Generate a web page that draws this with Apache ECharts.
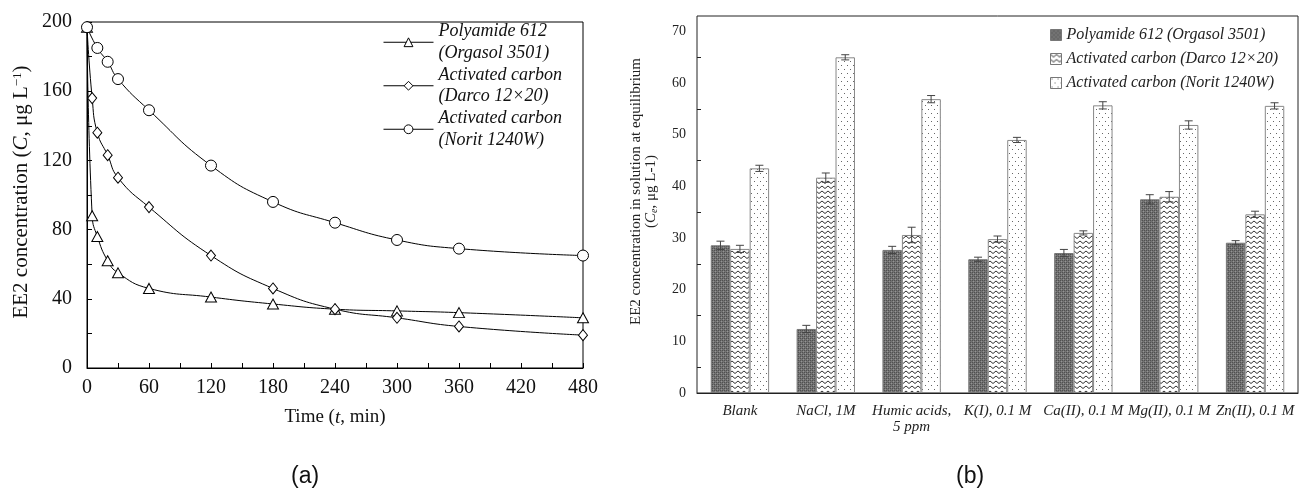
<!DOCTYPE html>
<html><head><meta charset="utf-8">
<script src="https://cdn.jsdelivr.net/npm/echarts@6/dist/echarts.min.js"></script>
<style>html,body{margin:0;padding:0;background:#fff}#c{width:1301px;height:489px}</style>
</head><body><div id="c"></div>
<script>
// ---- Panel (a): kinetics ----
const timesPoly = [0, 5, 10, 20, 30, 60, 120, 180, 240, 300, 360, 480];
const concPoly = [197, 88, 76, 62, 55, 46, 41, 37, 34, 33, 32, 29];
const timesDarco = [0, 5, 10, 20, 30, 60, 120, 180, 240, 300, 360, 480];
const concDarco = [197, 156, 136, 123, 110, 93, 65, 46, 34, 29, 24, 19];
const timesNorit = [0, 10, 20, 30, 60, 120, 180, 240, 300, 360, 480];
const concNorit = [197, 185, 177, 167, 149, 117, 96, 84, 74, 69, 65];
const namesA = ['Polyamide 612\n(Orgasol 3501)', 'Activated carbon\n(Darco 12×20)', 'Activated carbon\n(Norit 1240W)'];

// ---- Panel (b): equilibrium ----
const conditions = ['Blank', 'NaCl, 1M', 'Humic acids,\n5 ppm', 'K(I), 0.1 M', 'Ca(II), 0.1 M', 'Mg(II), 0.1 M', 'Zn(II), 0.1 M'];
const eqPoly = [28.6, 12.4, 27.7, 25.9, 27.1, 37.5, 29.1];
const eqDarco = [27.9, 41.7, 30.6, 29.8, 31.0, 38.0, 34.6];
const eqNorit = [43.5, 65.0, 56.9, 49.0, 55.7, 51.9, 55.6];
const errPoly = [0.8, 0.7, 0.7, 0.4, 0.7, 0.9, 0.4];
const errDarco = [0.7, 0.9, 1.5, 0.6, 0.4, 1.0, 0.6];
const errNorit = [0.6, 0.5, 0.7, 0.5, 0.7, 0.8, 0.6];
const namesB = ['Polyamide 612 (Orgasol 3501)', 'Activated carbon (Darco 12×20)', 'Activated carbon (Norit 1240W)'];

const SERIF = '"Liberation Serif", "DejaVu Serif", serif';

function makePattern(w, h, draw) {
  const cv = document.createElement('canvas');
  cv.width = w; cv.height = h;
  const ctx = cv.getContext('2d');
  draw(ctx);
  return { image: cv, repeat: 'repeat' };
}
const patPoly = makePattern(4, 4, ctx => {
  ctx.fillStyle = '#727272'; ctx.fillRect(0, 0, 4, 4);
  ctx.fillStyle = '#505050';
  ctx.fillRect(0, 0, 1, 1); ctx.fillRect(2, 2, 1, 1); ctx.fillRect(2, 0, 1, 1); ctx.fillRect(0, 2, 1, 1);
  ctx.fillStyle = '#949494';
  ctx.fillRect(1, 1, 1, 1); ctx.fillRect(3, 3, 1, 1);
});
const patDarco = makePattern(6, 5, ctx => {
  ctx.fillStyle = '#fff'; ctx.fillRect(0, 0, 6, 5);
  ctx.strokeStyle = '#333'; ctx.lineWidth = 1;
  ctx.beginPath(); ctx.moveTo(0, 1); ctx.lineTo(3, 3.5); ctx.lineTo(6, 1); ctx.stroke();
});
const patNorit = makePattern(6, 8, ctx => {
  ctx.fillStyle = '#fff'; ctx.fillRect(0, 0, 6, 8);
  ctx.fillStyle = '#666';
  ctx.fillRect(1, 1, 1, 1); ctx.fillRect(4, 5, 1, 1);
});

const zip = (a, b) => a.map((v, i) => [v, b[i]]);
const lineBase = {
  type: 'line', xAxisIndex: 0, yAxisIndex: 0, smooth: 0.5,
  lineStyle: { color: '#000', width: 1 },
  itemStyle: { color: '#fff', borderColor: '#000', borderWidth: 1 },
  emphasis: { disabled: true }, z: 3
};
const barBase = {
  type: 'bar', xAxisIndex: 1, yAxisIndex: 1, barGap: '0%', barCategoryGap: '32%',
  emphasis: { disabled: true }
};
const GROUP_FRAC = 0.68;
const errSeries = [[eqPoly, errPoly], [eqDarco, errDarco], [eqNorit, errNorit]];
const errData = [];
errSeries.forEach(([vals, errs], k) => vals.forEach((v, i) => errData.push([i, v, errs[i], k])));

const option = {
  animation: false,
  backgroundColor: '#fff',
  title: [
    { text: '(a)', left: 286, top: 460, textStyle: { fontFamily: '"Liberation Sans", Arial, sans-serif', fontSize: 23, fontWeight: 'normal', color: '#111' } },
    { text: '(b)', left: 951, top: 460, textStyle: { fontFamily: '"Liberation Sans", Arial, sans-serif', fontSize: 23, fontWeight: 'normal', color: '#111' } }
  ],
  legend: [
    {
      data: namesA, orient: 'vertical', left: 378, top: 5, itemWidth: 50, itemHeight: 11, itemGap: -21,
      itemStyle: { color: '#fff', borderColor: '#000', borderWidth: 1 },
      lineStyle: { color: '#000', width: 1 },
      textStyle: { fontFamily: SERIF, fontStyle: 'italic', fontSize: 18, color: '#111', lineHeight: 21.5, padding: [21.5, 0, 0, 0] },
      selectedMode: false
    },
    {
      data: namesB, orient: 'vertical', left: 1045, top: 22, itemWidth: 11, itemHeight: 11, itemGap: 8,
      icon: 'rect',
      itemStyle: { borderColor: '#777', borderWidth: 1 },
      textStyle: { fontFamily: SERIF, fontStyle: 'italic', fontSize: 16, color: '#222' },
      selectedMode: false
    }
  ],
  grid: [
    { left: 87, top: 22, width: 496, height: 346, show: true, borderColor: '#000', borderWidth: 1, backgroundColor: 'transparent' },
    { left: 697, top: 16, right: 3, bottom: 96, show: true, borderColor: '#222', borderWidth: 1, backgroundColor: 'transparent' }
  ],
  xAxis: [
    {
      gridIndex: 0, type: 'value', min: 0, max: 480, interval: 60,
      name: 'Time ({i|t}, min)', nameLocation: 'middle', nameGap: 40,
      nameTextStyle: { fontFamily: SERIF, fontSize: 19, color: '#111', rich: { i: { fontFamily: SERIF, fontSize: 19, fontStyle: 'italic', color: '#111' } } },
      axisLine: { lineStyle: { color: '#000' } },
      axisTick: { inside: true, length: 5, lineStyle: { color: '#000' } },
      minorTick: { show: true, splitNumber: 2, length: 5, lineStyle: { color: '#000' } },
      splitLine: { show: false },
      axisLabel: { fontFamily: SERIF, fontSize: 20, color: '#111', margin: 10 }
    },
    {
      gridIndex: 1, type: 'category', data: conditions,
      axisLine: { lineStyle: { color: '#222' } },
      axisTick: { show: false },
      axisLabel: { fontFamily: SERIF, fontStyle: 'italic', fontSize: 15, color: '#222', margin: 10, interval: 0, lineHeight: 16 }
    }
  ],
  yAxis: [
    {
      gridIndex: 0, type: 'value', min: 0, max: 200, interval: 40,
      name: 'EE2 concentration ({i|C}, μg L{s|−1})', nameLocation: 'middle', nameGap: 55,
      nameTextStyle: { fontFamily: SERIF, fontSize: 21, color: '#111', padding: [0, 0, 0, 6],
        rich: { i: { fontFamily: SERIF, fontSize: 21, fontStyle: 'italic', color: '#111' },
                s: { fontFamily: SERIF, fontSize: 13, color: '#111', verticalAlign: 'top', padding: [0, 0, 8, 0] } } },
      axisLine: { lineStyle: { color: '#000' } },
      axisTick: { inside: true, length: 5, lineStyle: { color: '#000' } },
      minorTick: { show: true, splitNumber: 2, length: 5, lineStyle: { color: '#000' } },
      splitLine: { show: false },
      axisLabel: { fontFamily: SERIF, fontSize: 20, color: '#111', margin: 15 }
    },
    {
      gridIndex: 1, type: 'value', min: 0, max: 73, interval: 10,
      name: 'EE2 concentration in solution at equilibrium\n({i|C}{e|e}, μg L-1)', nameLocation: 'middle', nameGap: 38,
      nameTextStyle: { fontFamily: SERIF, fontSize: 15, color: '#222', lineHeight: 15, align: 'center', padding: [0, 0, 0, 26],
        rich: { i: { fontFamily: SERIF, fontSize: 15, fontStyle: 'italic', color: '#222' },
                e: { fontFamily: SERIF, fontSize: 10, fontStyle: 'italic', color: '#222', verticalAlign: 'bottom' } } },
      axisLine: { lineStyle: { color: '#222' } },
      axisTick: { inside: true, length: 4, lineStyle: { color: '#222' } },
      minorTick: { show: true, splitNumber: 2, length: 4, lineStyle: { color: '#222' } },
      splitLine: { show: false },
      axisLabel: { fontFamily: SERIF, fontSize: 14, color: '#222', margin: 11, showMaxLabel: false }
    }
  ],
  series: [
    Object.assign({}, lineBase, { name: namesA[0], data: zip(timesPoly, concPoly), symbol: 'triangle', symbolSize: [11, 10] }),
    Object.assign({}, lineBase, { name: namesA[1], data: zip(timesDarco, concDarco), symbol: 'diamond', symbolSize: [9, 11] }),
    Object.assign({}, lineBase, { name: namesA[2], data: zip(timesNorit, concNorit), symbol: 'circle', symbolSize: 11 }),
    Object.assign({}, barBase, { name: namesB[0], data: eqPoly, itemStyle: { color: patPoly, borderColor: '#777', borderWidth: 1 } }),
    Object.assign({}, barBase, { name: namesB[1], data: eqDarco, itemStyle: { color: patDarco, borderColor: '#888', borderWidth: 1 } }),
    Object.assign({}, barBase, { name: namesB[2], data: eqNorit, itemStyle: { color: patNorit, borderColor: '#888', borderWidth: 1 } }),
    {
      type: 'custom', name: 'error', xAxisIndex: 1, yAxisIndex: 1, z: 5, silent: true,
      data: errData,
      renderItem(params, api) {
        const ci = api.value(0), v = api.value(1), e = api.value(2), k = api.value(3);
        const c = api.coord([ci, v]);
        const band = api.size([1, 0])[0];
        const bw = band * GROUP_FRAC / 3;
        const x = c[0] + (k - 1) * bw;
        const yt = api.coord([ci, v + e])[1], yb = api.coord([ci, v - e])[1];
        const st = { stroke: '#444', lineWidth: 1 };
        const cap = 4;
        return { type: 'group', children: [
          { type: 'line', shape: { x1: x, y1: yt, x2: x, y2: yb }, style: st },
          { type: 'line', shape: { x1: x - cap, y1: yt, x2: x + cap, y2: yt }, style: st },
          { type: 'line', shape: { x1: x - cap, y1: yb, x2: x + cap, y2: yb }, style: st }
        ] };
      }
    }
  ]
};
const chart = echarts.init(document.getElementById('c'), null, { renderer: 'canvas' });
chart.setOption(option);
</script></body></html>
